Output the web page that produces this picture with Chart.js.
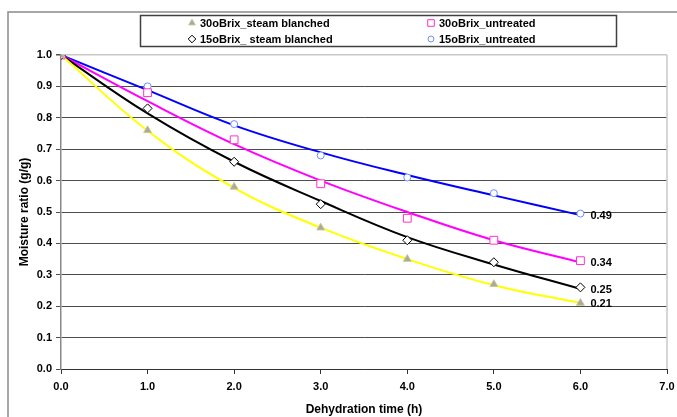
<!DOCTYPE html>
<html>
<head>
<meta charset="utf-8">
<script src="https://cdn.jsdelivr.net/npm/chart.js@4.4.1/dist/chart.umd.min.js"></script>
<style>
  html, body { margin: 0; padding: 0; background: #fff; }
  #wrap { width: 677px; height: 417px; }
</style>
</head>
<body>
<div id="wrap"><canvas id="moisture-chart" width="677" height="417"></canvas></div>
<script>
// dehydration time (h)
const hours = [0, 1, 2, 3, 4, 5, 6];

// measured moisture ratio (g/g)
const brix30Steam = [1.0, 0.76, 0.58, 0.45, 0.35, 0.27, 0.21];
const brix15Steam = [1.0, 0.83, 0.66, 0.525, 0.41, 0.34, 0.26];
const brix30Untreated = [1.0, 0.88, 0.73, 0.59, 0.48, 0.41, 0.345];
const brix15Untreated = [1.0, 0.90, 0.78, 0.68, 0.61, 0.56, 0.495];

// fitted curves
const fit30Steam = [1.0, 0.759, 0.577, 0.45, 0.35, 0.267, 0.21];
const fit15Steam = [1.0, 0.814, 0.66, 0.535, 0.42, 0.333, 0.255];
const fit30Untreated = [1.0, 0.853, 0.716, 0.60, 0.50, 0.41, 0.34];
const fit15Untreated = [1.0, 0.888, 0.776, 0.69, 0.618, 0.553, 0.49];

const seriesLabels = ['30oBrix_steam blanched', '15oBrix_ steam blanched', '30oBrix_untreated', '15oBrix_untreated'];
const endLabels = ['0.21', '0.25', '0.34', '0.49'];

const FONT = "'Liberation Sans', Arial, Helvetica, sans-serif";

function toPoints(values) {
    return values.map((v, i) => ({ x: hours[i], y: v }));
}

function markerSet(label, values, style, radius, fill, border) {
    return {
        label: label,
        data: toPoints(values),
        showLine: false,
        pointStyle: style,
        pointRadius: radius,
        pointHoverRadius: radius,
        pointBackgroundColor: fill,
        pointBorderColor: border,
        pointBorderWidth: 1,
        order: 0
    };
}

function fitSet(values, color, endLabel) {
    return {
        label: 'fit',
        data: toPoints(values),
        showLine: true,
        borderColor: color,
        borderWidth: 2,
        pointRadius: 0,
        tension: 0.4,
        fill: false,
        endLabel: endLabel,
        order: 1
    };
}

const markers = [
    markerSet(seriesLabels[0], brix30Steam, 'triangle', 4.5, '#a8a8a0', '#c8c890'),
    markerSet(seriesLabels[1], brix15Steam, 'rectRot', 4.5, '#ffffff', '#000000'),
    markerSet(seriesLabels[2], brix30Untreated, 'rect', 5.5, '#ffffff', '#ff33cc'),
    markerSet(seriesLabels[3], brix15Untreated, 'circle', 3.5, '#ffffff', '#6f8fff')
];

const fits = [
    fitSet(fit30Steam, '#ffff00', endLabels[0]),
    fitSet(fit15Steam, '#000000', endLabels[1]),
    fitSet(fit30Untreated, '#ff00ff', endLabels[2]),
    fitSet(fit15Untreated, '#0000ff', endLabels[3])
];

const framePlugin = {
    id: 'frame',
    beforeDraw(chart) {
        let ctx = chart.ctx;
        ctx.save();
        ctx.fillStyle = '#ffffff';
        ctx.fillRect(0, 0, chart.width, chart.height);
        ctx.strokeStyle = '#8a8a8a';
        ctx.lineWidth = 1.5;
        ctx.beginPath();
        ctx.moveTo(8, chart.height);
        ctx.lineTo(8, 12);
        ctx.lineTo(chart.width, 12);
        ctx.stroke();
        ctx.restore();
    },
    afterDraw(chart) {
        let ctx = chart.ctx;
        let area = chart.chartArea;
        ctx.save();
        ctx.strokeStyle = '#c8c8c8';
        ctx.lineWidth = 1.5;
        ctx.beginPath();
        ctx.moveTo(area.right, area.top);
        ctx.lineTo(area.right, area.bottom);
        ctx.stroke();

        // legend box
        ctx.strokeStyle = '#404040';
        ctx.lineWidth = 1.5;
        ctx.strokeRect(140.5, 15.5, 476, 31);
        ctx.font = 'bold 11px ' + FONT;
        ctx.fillStyle = '#000';
        ctx.textBaseline = 'middle';
        ctx.textAlign = 'left';
        const slots = [
            { x: 192, y: 23 }, { x: 192, y: 39 },
            { x: 431, y: 23 }, { x: 431, y: 39 }
        ];
        markers.forEach((ds, i) => {
            let s = slots[i];
            ctx.fillStyle = ds.pointBackgroundColor;
            ctx.strokeStyle = ds.pointBorderColor;
            ctx.lineWidth = 1;
            Chart.helpers.drawPoint(ctx, { pointStyle: ds.pointStyle, radius: ds.pointRadius * 0.85, borderWidth: 1 }, s.x, s.y);
            ctx.fillStyle = '#000';
            ctx.fillText(ds.label, s.x + 8, s.y + 1);
        });
        ctx.restore();
    },
    afterDatasetsDraw(chart) {
        let ctx = chart.ctx;
        ctx.save();
        ctx.font = 'bold 11px ' + FONT;
        ctx.fillStyle = '#000';
        ctx.textBaseline = 'middle';
        ctx.textAlign = 'left';
        chart.data.datasets.forEach((ds, i) => {
            if (!ds.endLabel) return;
            let meta = chart.getDatasetMeta(i);
            let last = meta.data[meta.data.length - 1];
            ctx.fillText(ds.endLabel, last.x + 10, last.y + 1);
        });
        ctx.restore();
    }
};

let ctx = document.getElementById('moisture-chart').getContext('2d');

let moistureChart = new Chart(ctx, {
    type: 'scatter',
    data: {
        datasets: markers.concat(fits)
    },
    options: {
        responsive: false,
        animation: false,
        layout: {
            padding: { left: 8, top: 55, right: 10, bottom: 0 }
        },
        plugins: {
            legend: { display: false },
            tooltip: { enabled: false }
        },
        scales: {
            x: {
                type: 'linear',
                min: 0,
                max: 7,
                afterFit: function (scale) {
                    scale.height = 48;
                    scale.paddingRight = 0;
                    scale.paddingLeft = 0;
                },
                border: { color: '#333333', width: 1 },
                grid: {
                    drawOnChartArea: false,
                    drawTicks: true,
                    tickLength: 5,
                    tickColor: '#333333'
                },
                ticks: {
                    stepSize: 1,
                    padding: 6,
                    color: '#000',
                    maxRotation: 0,
                    font: { family: FONT, size: 11, weight: 'bold' },
                    callback: function (value) { return value.toFixed(1); }
                },
                title: {
                    display: true,
                    text: 'Dehydration time (h)',
                    color: '#000',
                    padding: { top: 0, bottom: 0 },
                    font: { family: FONT, size: 12, weight: 'bold' }
                }
            },
            y: {
                min: 0,
                max: 1,
                afterFit: function (scale) { scale.width = 53; },
                border: { color: '#888888', width: 1.5 },
                grid: {
                    color: function (c) { return c.tick.value >= 1 ? '#c8c8c8' : '#4d4d4d'; },
                    lineWidth: function (c) { return c.tick.value >= 1 ? 1.5 : 1; },
                    tickColor: '#4d4d4d',
                    tickLength: 5
                },
                ticks: {
                    stepSize: 0.1,
                    padding: 4,
                    color: '#000',
                    font: { family: FONT, size: 11, weight: 'bold' },
                    callback: function (value) { return value.toFixed(1); }
                },
                title: {
                    display: true,
                    text: 'Moisture ratio (g/g)',
                    color: '#000',
                    padding: { top: 9, bottom: 0 },
                    font: { family: FONT, size: 12, weight: 'bold' }
                }
            }
        }
    },
    plugins: [framePlugin]
});
</script>
</body>
</html>
